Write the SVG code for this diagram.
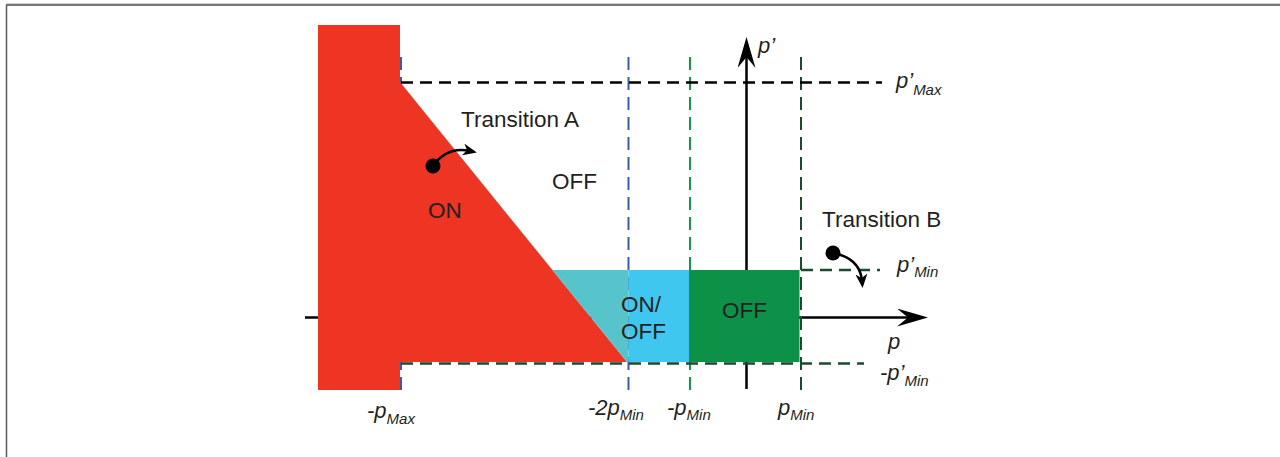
<svg xmlns="http://www.w3.org/2000/svg" width="1280" height="457" viewBox="0 0 1280 457">
<defs>
<style>
.t{font-family:"Liberation Sans",Arial,sans-serif;font-size:22.5px;fill:#231F20}
.i{font-family:"Liberation Sans",Arial,sans-serif;font-size:22px;font-style:italic;fill:#231F20}
.s{font-size:15px}
.ax{stroke:#000;stroke-width:2.5;fill:none}
.dk{stroke:#000;stroke-width:2.5;stroke-dasharray:12 7;fill:none}
.db{stroke:#3B5BA8;stroke-width:2;stroke-dasharray:13 7;fill:none}
.dg{stroke:#109A48;stroke-width:2;stroke-dasharray:13 7;fill:none}
.dd{stroke:#1B4A2C;stroke-width:2;stroke-dasharray:13 7;fill:none}
.dh{stroke:#1B4A2C;stroke-width:2.5;stroke-dasharray:12 7;fill:none}
.cv{stroke:#000;stroke-width:2.5;fill:none}
</style>
<marker id="ah" viewBox="0 0 31 18" refX="17" refY="9" markerWidth="31" markerHeight="18" markerUnits="userSpaceOnUse" orient="auto">
<path d="M31,9 L0,0 L11,9 L0,18 Z" fill="#000"/>
</marker>
<marker id="sh" viewBox="0 0 14 12" refX="7" refY="6" markerWidth="14" markerHeight="12" markerUnits="userSpaceOnUse" orient="auto">
<path d="M14,6 L0,0 L4,6 L0,12 Z" fill="#000"/>
</marker>
</defs>
<rect width="1280" height="457" fill="#fff"/>
<g id="frame">
<line x1="6" y1="3.5" x2="1280" y2="3.5" stroke="#cfcfcf" stroke-width="1"/>
<line x1="6" y1="5" x2="1280" y2="5" stroke="#4a4a4a" stroke-width="1.5"/>
<line x1="6.5" y1="5" x2="6.5" y2="457" stroke="#5a5a5a" stroke-width="1.5"/>
</g>
<g id="connectors">
<line class="ax" x1="305" y1="317.5" x2="914" y2="317.5" marker-end="url(#ah)"/>
<line class="ax" x1="746.5" y1="389" x2="746.5" y2="51" marker-end="url(#ah)"/>
<line class="db" x1="401" y1="57" x2="401" y2="397"/>
<line class="db" x1="628.5" y1="57" x2="628.5" y2="392"/>
<line class="dg" x1="690" y1="57" x2="690" y2="392"/>
<line class="dd" x1="801" y1="57" x2="801" y2="392"/>
<line class="dk" x1="401" y1="82.5" x2="882" y2="82.5"/>
<line class="dh" x1="801" y1="270" x2="880" y2="270"/>
<line class="dh" x1="401" y1="363.5" x2="864" y2="363.5"/>
</g>
<g id="region-on">
<polygon points="318,25 400,25 400,82 627,362 400,362 400,390 318,390" fill="#EE3524"/>
</g>
<g id="region-transition">
<polygon points="552.4,270 628.5,270 628.5,362 627,362" fill="#57C3CB"/>
</g>
<g id="region-onoff">
<rect x="628.5" y="270" width="60.5" height="92" fill="#40C7EF"/>
</g>
<g id="region-off-green">
<rect x="689" y="270" width="110.5" height="92" fill="#0D9047"/>
</g>
<g id="transition-a">
<path class="cv" d="M433,166 Q447,146 470,151" marker-end="url(#sh)"/>
<circle cx="433" cy="166" r="7.5" fill="#000"/>
<text class="t" x="461" y="127">Transition A</text>
</g>
<g id="transition-b">
<path class="cv" d="M833,253 Q860,258 862,281" marker-end="url(#sh)"/>
<circle cx="833" cy="253" r="7.5" fill="#000"/>
<text class="t" x="822" y="227">Transition B</text>
</g>
<g id="labels">
<text class="t" x="552" y="189">OFF</text>
<text class="t" x="428" y="218">ON</text>
<text class="t" x="621" y="312">ON/</text>
<text class="t" x="621" y="339">OFF</text>
<text class="t" x="722" y="318">OFF</text>
<text class="i" x="758" y="53">p’</text>
<text class="i" x="896" y="88">p’<tspan class="s" dy="7">Max</tspan></text>
<text class="i" x="897" y="272">p’<tspan class="s" dy="5">Min</tspan></text>
<text class="i" x="888" y="349">p</text>
<text class="i" x="880" y="380">-p’<tspan class="s" dy="6">Min</tspan></text>
<text class="i" x="367" y="418">-p<tspan class="s" dy="6">Max</tspan></text>
<text class="i" x="588" y="415">-2p<tspan class="s" dy="5">Min</tspan></text>
<text class="i" x="667" y="415">-p<tspan class="s" dy="5">Min</tspan></text>
<text class="i" x="778" y="415">p<tspan class="s" dy="5">Min</tspan></text>
</g>
</svg>
